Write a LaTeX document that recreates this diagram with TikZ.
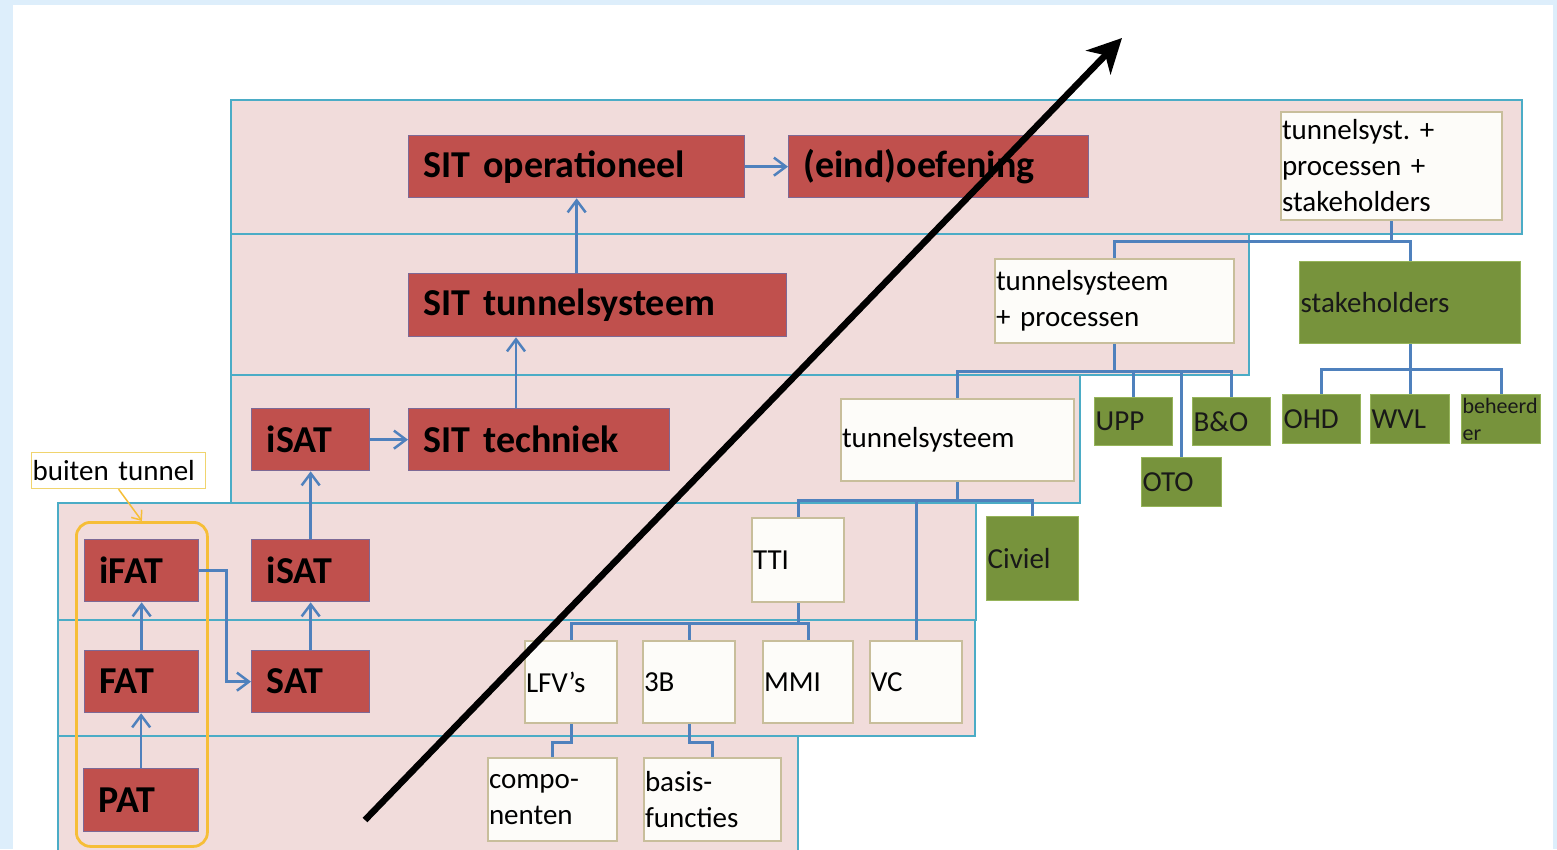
\documentclass[tikz,border=0pt]{standalone}
\usepackage{fontspec}
\setmainfont{Carlito}
\usetikzlibrary{arrows.meta,calc}
\definecolor{bgblue}{RGB}{221,238,251}
\definecolor{bandfill}{RGB}{241,220,219}
\definecolor{bandline}{RGB}{75,172,198}
\definecolor{redfill}{RGB}{192,80,77}
\definecolor{redline}{RGB}{125,105,150}
\definecolor{conn}{RGB}{79,129,189}
\definecolor{creamfill}{RGB}{253,252,249}
\definecolor{creamline}{RGB}{200,190,155}
\definecolor{greenfill}{RGB}{119,147,60}
\definecolor{greenline}{RGB}{150,180,90}
\definecolor{grporange}{RGB}{246,190,55}
\definecolor{lblline}{RGB}{240,212,110}
\definecolor{darktext}{RGB}{25,25,25}
\frenchspacing
\begin{document}
\begin{tikzpicture}[x=1pt,y=-1pt,
 band/.style={draw=bandline, fill=bandfill, line width=1.3pt},
 base/.style={anchor=north west, inner ysep=0pt, align=left},
 redbox/.style={base, draw=redline, fill=redfill, line width=1.3pt, inner xsep=15pt, font=\fontsize{38}{44}\selectfont\bfseries, text=black},
 cream/.style={base, draw=creamline, fill=creamfill, line width=2pt, inner xsep=1pt, font=\fontsize{29}{36}\selectfont, text=black},
 greenbox/.style={base, draw=greenline, fill=greenfill, line width=1.3pt, inner xsep=1pt, font=\fontsize{29}{36}\selectfont, text=darktext},
 arr/.style={draw=conn, line width=2.5pt, -{Straight Barb[length=12pt,width=18pt]}},
 tree/.style={draw=conn, line width=3pt},
]
\useasboundingbox (0,0) rectangle (1557,849);
\fill[bgblue] (0,0) rectangle (1557,849);
\fill[white] (13,5) rectangle (1553,849);

% bands
\draw[band] (231,100) rectangle (1522,234);
\draw[band] (231,234) rectangle (1249,375);
\draw[band] (231,375) rectangle (1080,503);
\draw[band] (58,503) rectangle (976,620);
\draw[band] (58,620) rectangle (975,736);
\draw[band] (58,736) rectangle (798,870);

% group
\node[draw=grporange, line width=2.8pt, rounded corners=14pt, minimum width=131pt, minimum height=324pt, anchor=north west, inner sep=0pt] (grp) at (75,521) {};
\node[draw=lblline, fill=white, line width=1.2pt, anchor=north west, minimum height=36pt, text width=172pt, inner xsep=1pt, inner ysep=0pt, align=left, font=\fontsize{29}{36}\selectfont] (lbl) at (31,452) {buiten tunnel};

% red boxes
\node[redbox, minimum width=336pt, minimum height=62pt, text width=306pt] (sitop) at (408,135) {SIT operationeel};
\node[redbox, minimum width=300pt, minimum height=62pt, text width=270pt] (eind) at (788,135) {(eind)oefening};
\node[redbox, minimum width=378pt, minimum height=63pt, text width=348pt] (sittun) at (408,273) {SIT tunnelsysteem};
\node[redbox, minimum width=118pt, minimum height=62pt, text width=88pt] (isatu) at (251,408) {iSAT};
\node[redbox, minimum width=261pt, minimum height=62pt, text width=231pt] (sittech) at (408,408) {SIT techniek};
\node[redbox, minimum width=114pt, minimum height=62pt, text width=84pt] (ifat) at (84,539) {iFAT};
\node[redbox, minimum width=118pt, minimum height=62pt, text width=88pt] (isatl) at (251,539) {iSAT};
\node[redbox, minimum width=114pt, minimum height=62pt, text width=84pt] (fat) at (84,650) {FAT};
\node[redbox, minimum width=118pt, minimum height=62pt, text width=88pt] (sat) at (251,650) {SAT};
\node[redbox, minimum width=115pt, minimum height=63pt, text width=85pt] (pat) at (83,768) {PAT};

% arrows between red boxes
\draw[arr] (sitop.east) -- (eind.west);
\draw[arr] (sittun.north -| sitop.south) -- (sitop.south);
\draw[arr] ($(sittech.north west)+(108,0)$) -- ($(sittun.south west)+(108,0)$);
\draw[arr] (isatu.east) -- (sittech.west);
\draw[arr] (isatl.north) -- (isatu.south);
\draw[arr] (sat.north) -- (isatl.south);
\draw[arr] (fat.north) -- (ifat.south);
\draw[arr] (pat.north) -- (pat.north |- fat.south);
\draw[arr] (ifat.east) -- ++(27,0) |- (sat.west);
\draw[draw=grporange, line width=1.5pt, -{Straight Barb[length=8pt,width=13pt]}] (lbl.south) -- (grp.north);

% cream boxes
\node[cream, minimum width=221pt, minimum height=108pt, text width=219pt] (tps) at (1280,111) {tunnelsyst. +\\processen +\\stakeholders};
\node[cream, minimum width=239pt, minimum height=84pt, text width=237pt] (tpp) at (994,258) {tunnelsysteem\\+ processen};
\node[cream, minimum width=233pt, minimum height=82pt, text width=231pt] (ts) at (840,398) {tunnelsysteem};
\node[cream, minimum width=92pt, minimum height=84pt, text width=90pt] (tti) at (751,517) {TTI};
\node[cream, minimum width=92pt, minimum height=82pt, text width=90pt] (lfv) at (524,640) {LFV’s};
\node[cream, minimum width=92pt, minimum height=82pt, text width=90pt] (b3) at (642,640) {3B};
\node[cream, minimum width=90pt, minimum height=82pt, text width=88pt] (mmi) at (762,640) {MMI};
\node[cream, minimum width=92pt, minimum height=82pt, text width=90pt] (vc) at (869,640) {VC};
\node[cream, minimum width=129pt, minimum height=83pt, text width=127pt] (comp) at (487,757) {compo-\\nenten};
\node[cream, minimum width=137pt, minimum height=83pt, text width=135pt] (basis) at (643,757) {basis-\\functies};

% green boxes
\node[greenbox, minimum width=221pt, minimum height=82pt, text width=219pt] (stk) at (1299,261) {stakeholders};
\node[greenbox, minimum width=78pt, minimum height=48pt, text width=76pt] (upp) at (1094,397) {UPP};
\node[greenbox, minimum width=78pt, minimum height=48pt, text width=76pt] (bo) at (1192,397) {B\&O};
\node[greenbox, minimum width=80pt, minimum height=49pt, text width=78pt] (oto) at (1141,457) {OTO};
\node[greenbox, minimum width=78pt, minimum height=49pt, text width=76pt] (ohd) at (1282,394) {OHD};
\node[greenbox, minimum width=79pt, minimum height=49pt, text width=77pt] (wvl) at (1370,394) {WVL};
\node[greenbox, minimum width=79pt, minimum height=49pt, text width=77pt, font=\fontsize{22}{27}\selectfont] (beh) at (1461,394) {beheerd\\er};
\node[greenbox, minimum width=92pt, minimum height=84pt, text width=90pt] (civ) at (986,516) {Civiel};

% tree connectors
\draw[tree] (tps.south) -- ++(0,20) -| (tpp.north);
\draw[tree] (tps.south) -- ++(0,20) -| (stk.north);
\draw[tree] (tpp.south) -- ++(0,27) -| (ts.north);
\draw[tree] (tpp.south) -- ++(0,27) -| (upp.north);
\draw[tree] (tpp.south) -- ++(0,27) -| (oto.north);
\draw[tree] (tpp.south) -- ++(0,27) -| (bo.north);
\draw[tree] (stk.south) -- ++(0,25) -| (ohd.north);
\draw[tree] (stk.south) -- ++(0,25) -| (wvl.north);
\draw[tree] (stk.south) -- ++(0,25) -| (beh.north);
\draw[tree] (ts.south) -- ++(0,18) -| (tti.north);
\draw[tree] (ts.south) -- ++(0,18) -| (vc.north);
\draw[tree] (ts.south) -- ++(0,18) -| (civ.north);
\draw[tree] (tti.south) -- ++(0,20) -| (lfv.north);
\draw[tree] (tti.south) -- ++(0,20) -| (b3.north);
\draw[tree] (tti.south) -- ++(0,20) -| (mmi.north);
\draw[tree] (lfv.south) -- ++(0,18) -| (comp.north);
\draw[tree] (b3.south) -- ++(0,18) -| (basis.north);

% big arrow
\coordinate (bstart) at (365,820);
\coordinate (bend) at (1122,38);
\draw[line width=6.5pt, -{Stealth[length=34pt,width=34pt,inset=10pt]}] (bstart) -- (bend);
\end{tikzpicture}
\end{document}
